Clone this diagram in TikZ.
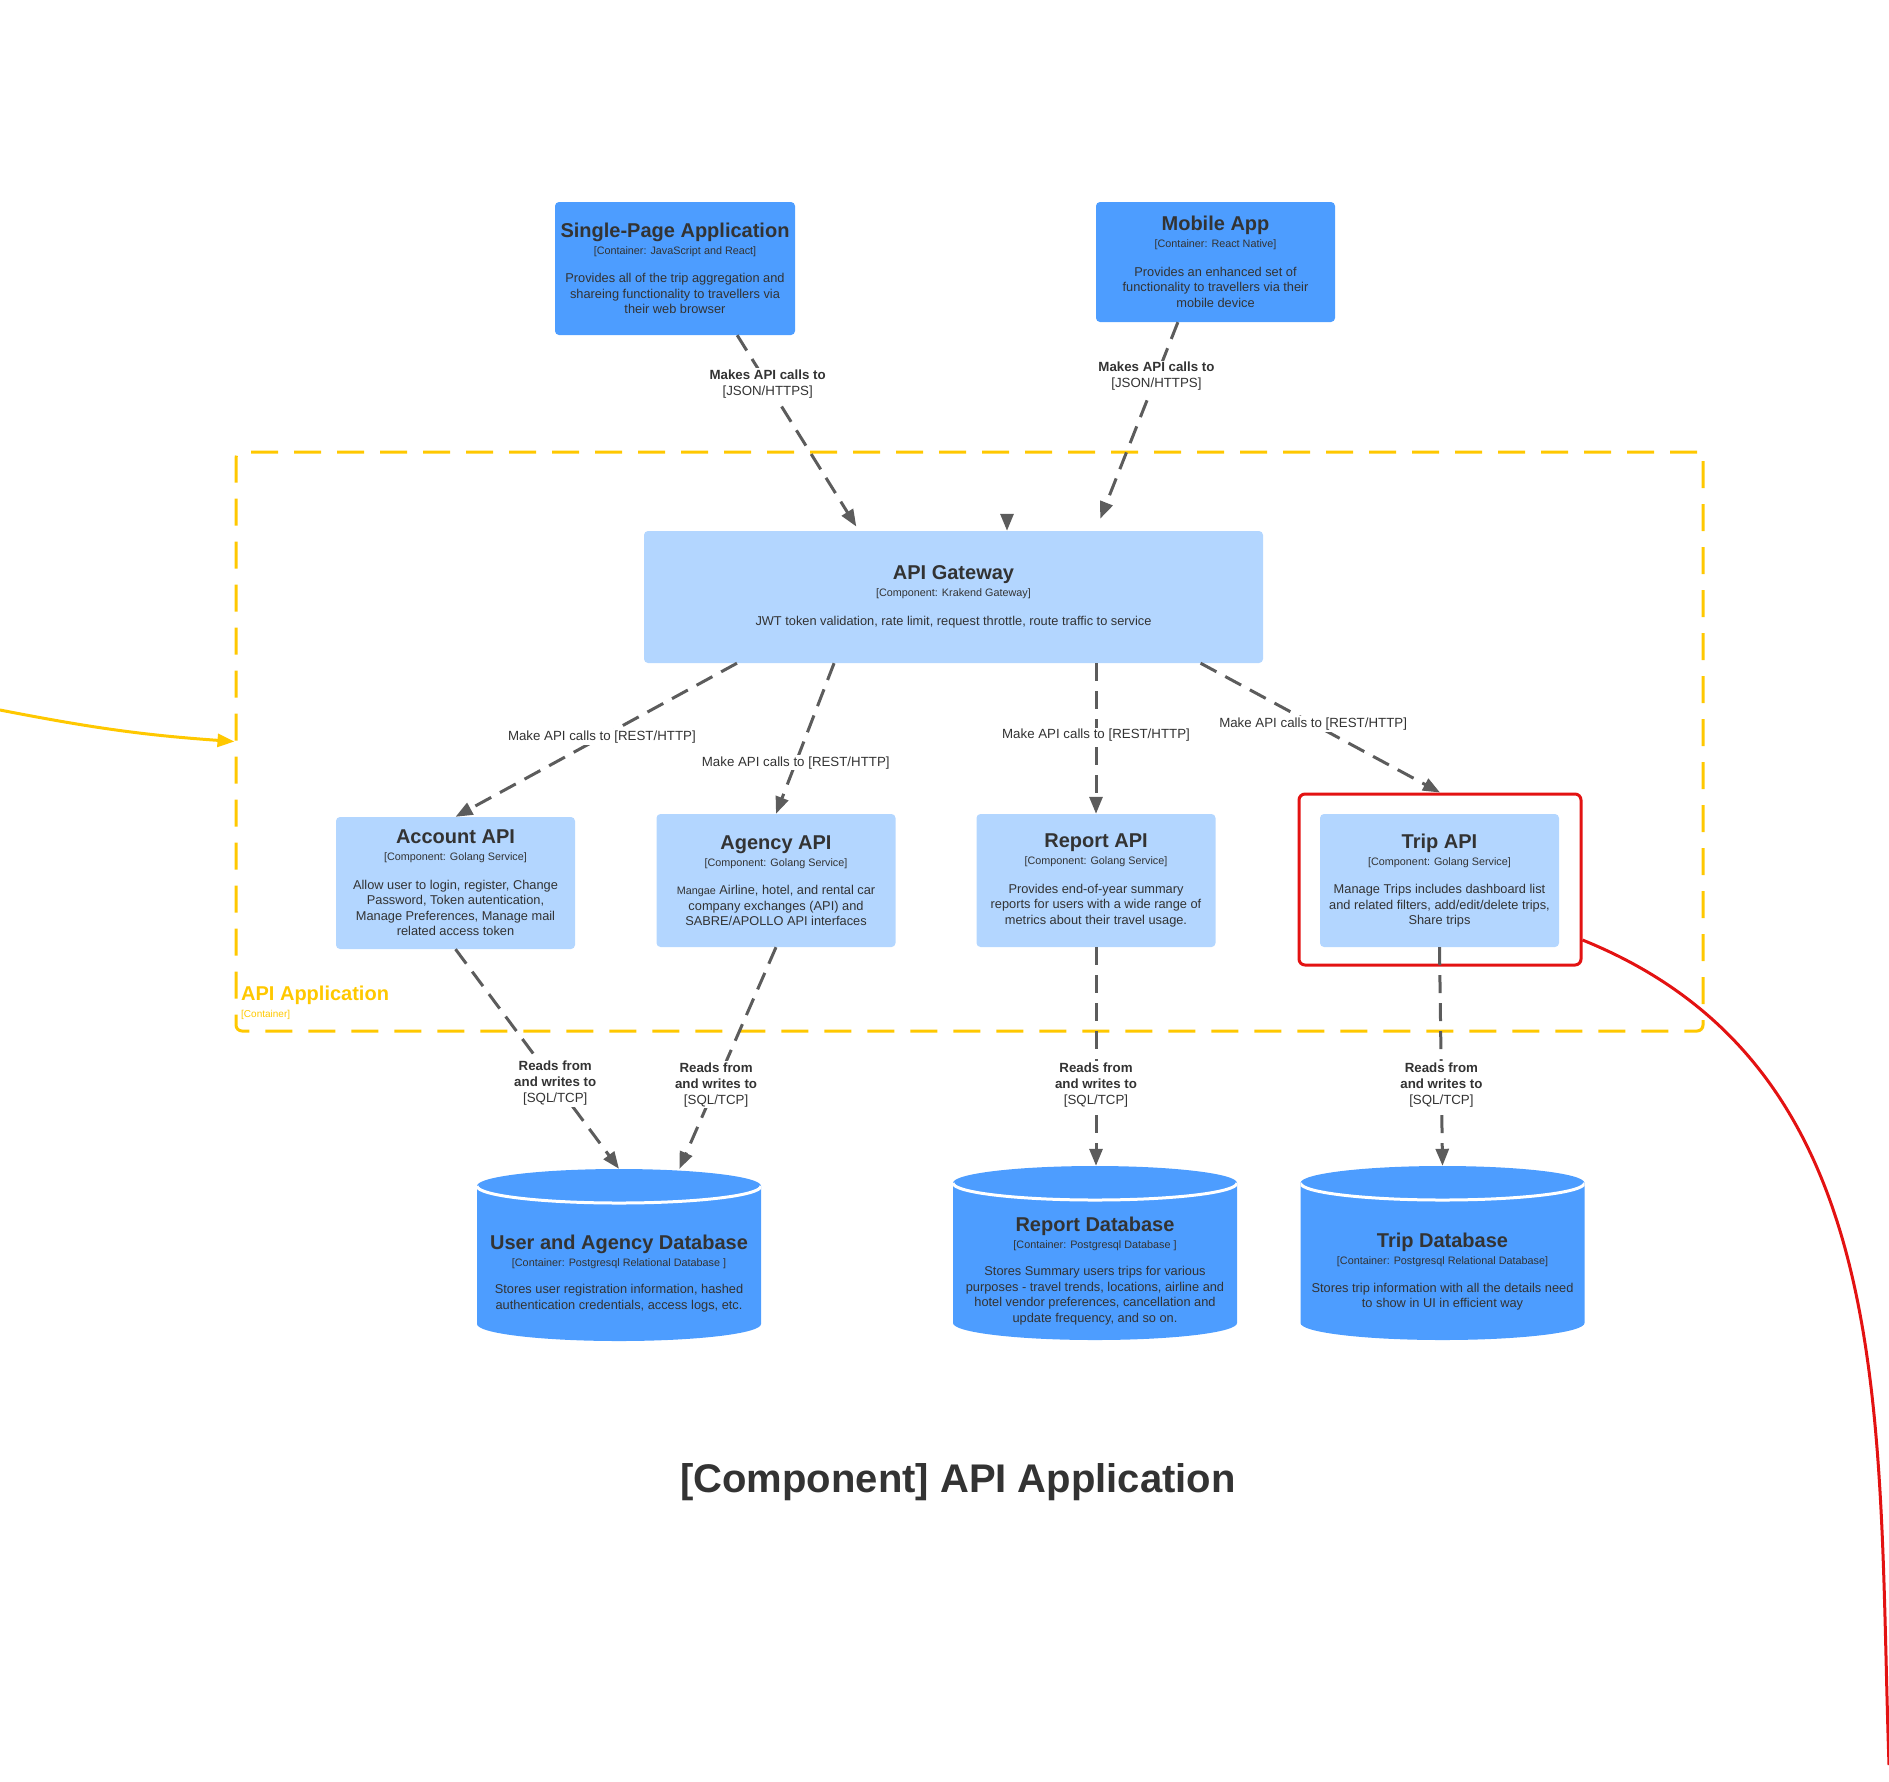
\documentclass[tikz,border=0pt]{standalone}
\usepackage{fontspec}
\setmainfont{Liberation Sans}
\usetikzlibrary{arrows.meta}

\definecolor{c4dark}{HTML}{4D9DFF}
\definecolor{c4light}{HTML}{B3D6FF}
\definecolor{c4text}{HTML}{333333}
\definecolor{c4edge}{HTML}{5C5C5C}
\definecolor{c4yellow}{HTML}{FFC800}
\definecolor{c4red}{HTML}{E31212}
\newcommand{\ctitle}[1]{{\fontsize{20}{24}\selectfont\bfseries #1}}
\newcommand{\ctech}[1]{{\fontsize{10.8}{13}\selectfont #1}}

\begin{document}
\begin{tikzpicture}
[every node/.style={inner sep=0pt},
 >={Triangle[length=17pt,width=13pt]},
 comp/.style={rectangle, rounded corners=4pt, fill=c4light, text=c4text, align=center, minimum width=239pt, minimum height=133pt, font=\fontsize{12.8}{15.5}\selectfont},
 cont/.style={comp, fill=c4dark},
 dbbox/.style={minimum width=284pt, minimum height=172pt, path picture={
   \fill [c4dark] ([yshift=-17pt]path picture bounding box.north west) -- ([yshift=17pt]path picture bounding box.south west) arc [start angle=180, end angle=360, x radius=142pt, y radius=17pt] -- ([yshift=-17pt]path picture bounding box.north east) arc [start angle=0, end angle=180, x radius=142pt, y radius=17pt] -- cycle;
   \draw [white, line width=3pt] ([yshift=-17pt]path picture bounding box.north west) arc [start angle=180, end angle=360, x radius=142pt, y radius=17pt];}},
 dbtext/.style={align=center, text=c4text, font=\fontsize{12.8}{15.5}\selectfont},
 edge/.style={line width=3pt, ->, color=c4edge, dash pattern=on 18pt off 10pt},
 lbl/.style={fill=white, inner sep=1.5pt, align=center, text=c4text, font=\fontsize{13.3}{16}\selectfont}]
\useasboundingbox (0pt,0pt) rectangle (1889pt,-1781pt);
\node (app) [draw=c4yellow, line width=3pt, dash pattern=on 27pt off 16pt, rounded corners=6pt, minimum width=1467pt, minimum height=579pt] at (969.5pt, -741.5pt) {};
\node (applbl) [anchor=west, text=c4yellow, font=\fontsize{20}{24}\selectfont\bfseries] at (241pt, -995pt) {API Application};
\node (apptech) [anchor=west, text=c4yellow, font=\fontsize{10}{12}\selectfont] at (241pt, -1015pt) {[Container]};
\node (spa) [cont, minimum width=240pt] at (675pt, -268.5pt) {\ctitle{Single-Page Application}\\[1.5pt]\ctech{[Container: JavaScript and React]}\\[13pt]Provides all of the trip aggregation and\\shareing functionality to travellers via\\their web browser};
\node (mob) [cont, minimum height=120pt] at (1215.5pt, -262pt) {\ctitle{Mobile App}\\[1.5pt]\ctech{[Container: React Native]}\\[13pt]Provides an enhanced set of\\functionality to travellers via their\\mobile device};
\node (gw) [comp, minimum width=619pt, minimum height=132pt] at (953.5pt, -597pt) {\ctitle{API Gateway}\\[1.5pt]\ctech{[Component: Krakend Gateway]}\\[13pt]JWT token validation, rate limit, request throttle, route traffic to service};
\node (acc) [comp, minimum height=132pt] at (455.5pt, -883pt) {\ctitle{Account API}\\[1.5pt]\ctech{[Component: Golang Service]}\\[13pt]Allow user to login, register, Change\\Password, Token autentication,\\Manage Preferences, Manage mail\\related access token};
\node (agy) [comp] at (776pt, -880.5pt) {\ctitle{Agency API}\\[1.5pt]\ctech{[Component: Golang Service]}\\[13pt]\ctech{Mangae} Airline, hotel, and rental car\\company exchanges (API) and\\SABRE/APOLLO API interfaces};
\node (rep) [comp] at (1096pt, -880.5pt) {\ctitle{Report API}\\[1.5pt]\ctech{[Component: Golang Service]}\\[13pt]Provides end-of-year summary\\reports for users with a wide range of\\metrics about their travel usage.};
\node (hl) [draw=c4red, line width=3pt, rounded corners=6pt, minimum width=282pt, minimum height=171pt] at (1440pt, -879.5pt) {};
\node (trip) [comp] at (1439.5pt, -880.5pt) {\ctitle{Trip API}\\[1.5pt]\ctech{[Component: Golang Service]}\\[13pt]Manage Trips includes dashboard list\\and related filters, add/edit/delete trips,\\Share trips};
\node (uadb) [dbbox] at (619pt, -1255pt) {};
\node (uadbtxt) [dbtext] at (619pt, -1273.5pt) {\ctitle{User and Agency Database}\\[1.5pt]\ctech{[Container: Postgresql Relational Database ]}\\[12pt]Stores user registration information, hashed\\authentication credentials, access logs, etc.};
\node (repdb) [dbbox, minimum height=174pt] at (1095pt, -1253pt) {};
\node (repdbtxt) [dbtext] at (1095pt, -1271pt) {\ctitle{Report Database}\\[1.5pt]\ctech{[Container: Postgresql Database ]}\\[12pt]Stores Summary users trips for various\\purposes - travel trends, locations, airline and\\hotel vendor preferences, cancellation and\\update frequency, and so on.};
\node (tripdb) [dbbox, minimum height=174pt] at (1442.5pt, -1253pt) {};
\node (tripdbtxt) [dbtext] at (1442.5pt, -1272pt) {\ctitle{Trip Database}\\[1.5pt]\ctech{[Container: Postgresql Relational Database]}\\[12pt]Stores trip information with all the details need\\to show in UI in efficient way};
\node (title) [text=c4text, font=\fontsize{40}{46}\selectfont\bfseries] at (958pt, -1482pt) {[Component] API Application};
\coordinate (ext) at (0pt, -710pt);
\coordinate (gwin) at (1007pt, -514pt);
\coordinate (off) at (1889pt, -1765pt);
\draw [edge, shorten >=5pt] (spa.-47) to node [lbl, pos=0.25] {\textbf{Makes API calls to}\\{}[JSON/HTTPS]} (gw.145.6);
\draw [edge, shorten >=13pt] (mob.-122) to node [lbl, pos=0.26] {\textbf{Makes API calls to}\\{}[JSON/HTTPS]} (gw.25.2);
\draw [edge] (gwin) -- (gwin |- gw.north);
\draw [edge] (gw.197.1) to node [lbl, pos=0.48] {Make API calls to [REST/HTTP]} (acc.north);
\draw [edge] (gw.209.1) to node [lbl, pos=0.66] {Make API calls to [REST/HTTP]} (agy.north);
\draw [edge] (rep.north |- gw.south) to node [lbl, pos=0.48] {Make API calls to [REST/HTTP]} (rep.north);
\draw [edge] (gw.-15.3) to node [lbl, pos=0.47] {Make API calls to [REST/HTTP]} (hl.north);
\draw [edge] (acc.south) to node [lbl, pos=0.61] {\textbf{Reads from}\\\textbf{and writes to}\\{}[SQL/TCP]} (uadb.north);
\draw [edge] (agy.south) to node [lbl, pos=0.62] {\textbf{Reads from}\\\textbf{and writes to}\\{}[SQL/TCP]} (uadb.55.9);
\draw [edge] (rep.south) to node [lbl, pos=0.63] {\textbf{Reads from}\\\textbf{and writes to}\\{}[SQL/TCP]} (rep.south |- repdb.north);
\draw [edge] (trip.south) to node [lbl, pos=0.63] {\textbf{Reads from}\\\textbf{and writes to}\\{}[SQL/TCP]} (tripdb.north);
\draw [line width=3pt, ->, color=c4yellow] (ext) to [out=-11, in=176] (app.west);
\draw [line width=3pt, color=c4red] (hl.-23.9) to [out=-22, in=92] (off);
\end{tikzpicture}
\end{document}
